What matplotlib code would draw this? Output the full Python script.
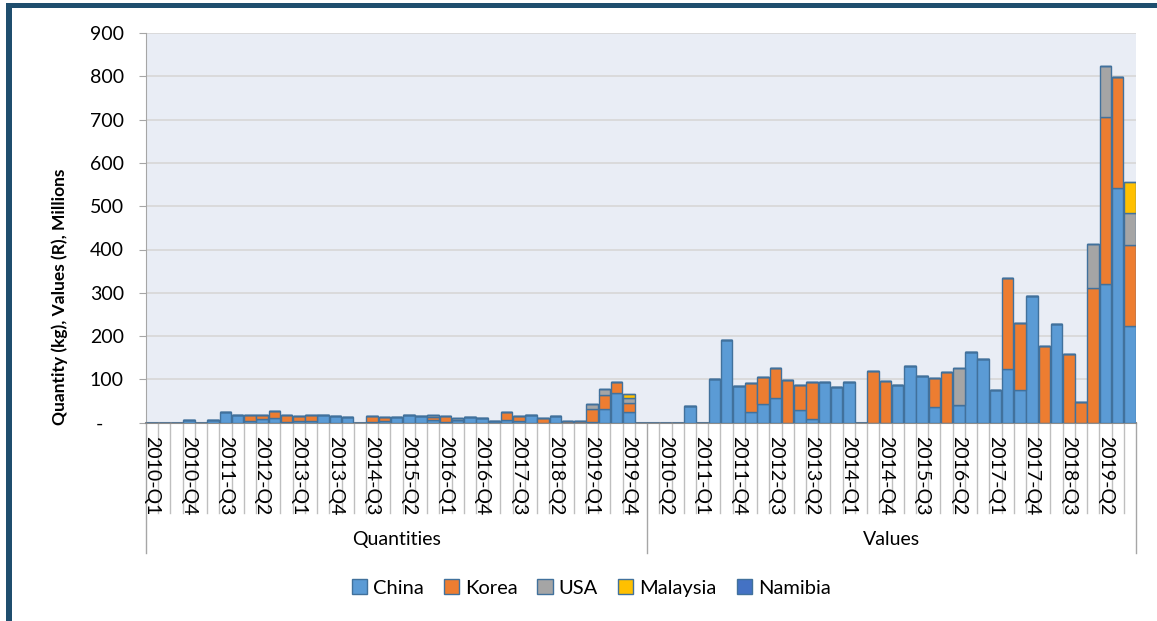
import matplotlib
matplotlib.use("Agg")
import matplotlib.pyplot as plt
import matplotlib.transforms as mtransforms
from matplotlib.patches import Rectangle
import numpy as np

plt.rcParams['font.family'] = ['Lato', 'DejaVu Sans']

# ---- categories ----
quarters = [f"{y}-Q{q}" for y in range(2010, 2020) for q in range(1, 5)]
qty_labels = quarters + [""]          # Quantities group has one trailing blank category
val_labels = quarters
groups = ["Quantities", "Values"]
series = ["China", "Korea", "USA", "Malaysia", "Namibia"]
colors = ["#5B9BD5", "#ED7D31", "#A5A5A5", "#FFC000", "#4472C4"]

# ---- Quantities (kg, millions) ----
qty_china    = [0, 0, 0, 7, 0, 7, 25, 17, 4, 8, 12, 2, 5, 3, 18, 15, 13, 0, 2, 3,
                14, 18, 16, 6, 2, 7, 14, 11, 5, 7, 5, 18, 0, 16, 0, 0, 1, 32, 69, 25, 0]
qty_korea    = [0, 0, 0, 0, 0, 0, 0, 0, 13, 9, 15, 16, 10, 15, 0, 0, 0, 0, 14, 10,
                0, 0, 0, 7, 13, 0, 0, 0, 0, 18, 10, 0, 11, 0, 5, 4, 31, 33, 24, 21, 0]
qty_usa      = [0, 0, 0, 0, 0, 0, 0, 0, 0, 0, 0, 0, 0, 0, 0, 0, 0, 0, 0, 0,
                0, 0, 0, 4, 0, 5, 0, 0, 0, 0, 0, 0, 0, 0, 0, 0, 12, 13, 0, 12, 0]
qty_malaysia = [0, 0, 0, 0, 0, 0, 0, 0, 0, 0, 0, 0, 0, 0, 0, 0, 0, 0, 0, 0,
                0, 0, 0, 0, 0, 0, 0, 0, 0, 0, 0, 0, 0, 0, 0, 0, 0, 0, 0, 9, 0]
qty_namibia  = [0] * 41

# ---- Values (R, millions) ----
val_china    = [0, 0, 0, 39, 0, 101, 191, 85, 25, 44, 57, 0, 29, 8, 93, 83, 95, 0, 0, 0,
                88, 131, 108, 37, 0, 41, 163, 147, 76, 125, 76, 293, 0, 228, 0, 0, 0, 320, 543, 223]
val_korea    = [0, 0, 0, 0, 0, 0, 0, 0, 67, 62, 70, 98, 59, 87, 0, 0, 0, 0, 120, 96,
                0, 0, 0, 66, 117, 0, 0, 0, 0, 209, 155, 0, 178, 0, 159, 48, 312, 387, 255, 188]
val_usa      = [0, 0, 0, 0, 0, 0, 0, 0, 0, 0, 0, 0, 0, 0, 0, 0, 0, 0, 0, 0,
                0, 0, 0, 0, 0, 85, 0, 0, 0, 0, 0, 0, 0, 0, 0, 0, 101, 117, 0, 73]
val_malaysia = [0, 0, 0, 0, 0, 0, 0, 0, 0, 0, 0, 0, 0, 0, 0, 0, 0, 0, 0, 0,
                0, 0, 0, 0, 0, 0, 0, 0, 0, 0, 0, 0, 0, 0, 0, 0, 0, 0, 0, 71]
val_namibia  = [0] * 40

yticks = [0, 100, 200, 300, 400, 500, 600, 700, 800, 900]

# ---- assemble ----
labels = qty_labels + val_labels
data = [np.array(a + b, dtype=float) for a, b in [
    (qty_china, val_china), (qty_korea, val_korea), (qty_usa, val_usa),
    (qty_malaysia, val_malaysia), (qty_namibia, val_namibia)]]
n = len(labels)
x = np.arange(n)
n_qty = len(qty_labels)

W, H = 1157, 621
fig = plt.figure(figsize=(W / 100, H / 100), dpi=100)
ax = fig.add_axes([146 / W, 1 - 422.7 / H, (1136 - 146) / W, (422.7 - 33) / H])
ax.set_facecolor("#E9EDF5")

bottom = np.zeros(n)
for name, vals, col in zip(series, data, colors):
    ax.bar(x, vals, width=0.94, bottom=bottom, color=col, edgecolor="#41719C",
           linewidth=1.0, label=name, zorder=3)
    bottom += vals

ax.set_xlim(-0.5, n - 0.5)
ax.set_ylim(0, 900)
ax.set_yticks(yticks)
ax.set_yticklabels(["-    "] + [str(v) for v in yticks[1:]], fontsize=14)
ax.yaxis.grid(True, color="#D9D9D9", linewidth=1.3, zorder=0)
ax.set_axisbelow(True)
for s in ["top", "right"]:
    ax.spines[s].set_visible(False)
ax.spines["left"].set_color("#A6A6A6")
ax.spines["bottom"].set_color("#8C8C8C")
ax.spines["bottom"].set_linewidth(1.5)
ax.tick_params(axis="y", length=5, color="#A6A6A6", pad=11)
ax.set_xticks([])

trans = mtransforms.blended_transform_factory(ax.transData, ax.transAxes)
# category separator lines
for k in range(n + 1):
    xb = k - 0.5
    if k in (0, n_qty, n):
        ax.plot([xb, xb], [0, -0.334], transform=trans, color="#A6A6A6", lw=1.0, clip_on=False)
    else:
        ax.plot([xb, xb], [0, -0.232], transform=trans, color="#BFBFBF", lw=1.0, clip_on=False)
# category labels every 3rd category
for i in range(0, n, 3):
    if labels[i]:
        ax.text(i, -0.035, labels[i], transform=trans, rotation=-90, ha="center", va="top",
                fontsize=14, color="black")
# group labels
ax.text((n_qty - 1) / 2, -0.301, groups[0], transform=trans, ha="center", va="center", fontsize=14)
ax.text(n_qty + (n - n_qty - 1) / 2, -0.301, groups[1], transform=trans, ha="center", va="center", fontsize=14)

fig.text(60 / W, 1 - 297 / H, "Quantity (kg), Values (R), Millions", rotation=90,
         ha="center", va="center", fontsize=12.5, fontweight="bold")

handles = [Rectangle((0, 0), 1, 1, facecolor=c, edgecolor="#41719C", lw=1.0) for c in colors]
fig.legend(handles, series, loc="center", bbox_to_anchor=(591 / W, 1 - 588 / H), ncol=5,
           frameon=False, fontsize=14.5, handlelength=0.75, handleheight=0.75,
           handletextpad=0.3, columnspacing=1.0)

# outer frame (left and top bands)
frame_col = "#1F4E6E"
fig.patches.append(Rectangle((6 / W, 0), 6 / W, 1 - 3 / H, transform=fig.transFigure,
                             facecolor=frame_col, edgecolor="none"))
fig.patches.append(Rectangle((6 / W, 1 - 7.5 / H), 1, 4.5 / H, transform=fig.transFigure,
                             facecolor=frame_col, edgecolor="none"))

fig.savefig("out.png", dpi=100)
